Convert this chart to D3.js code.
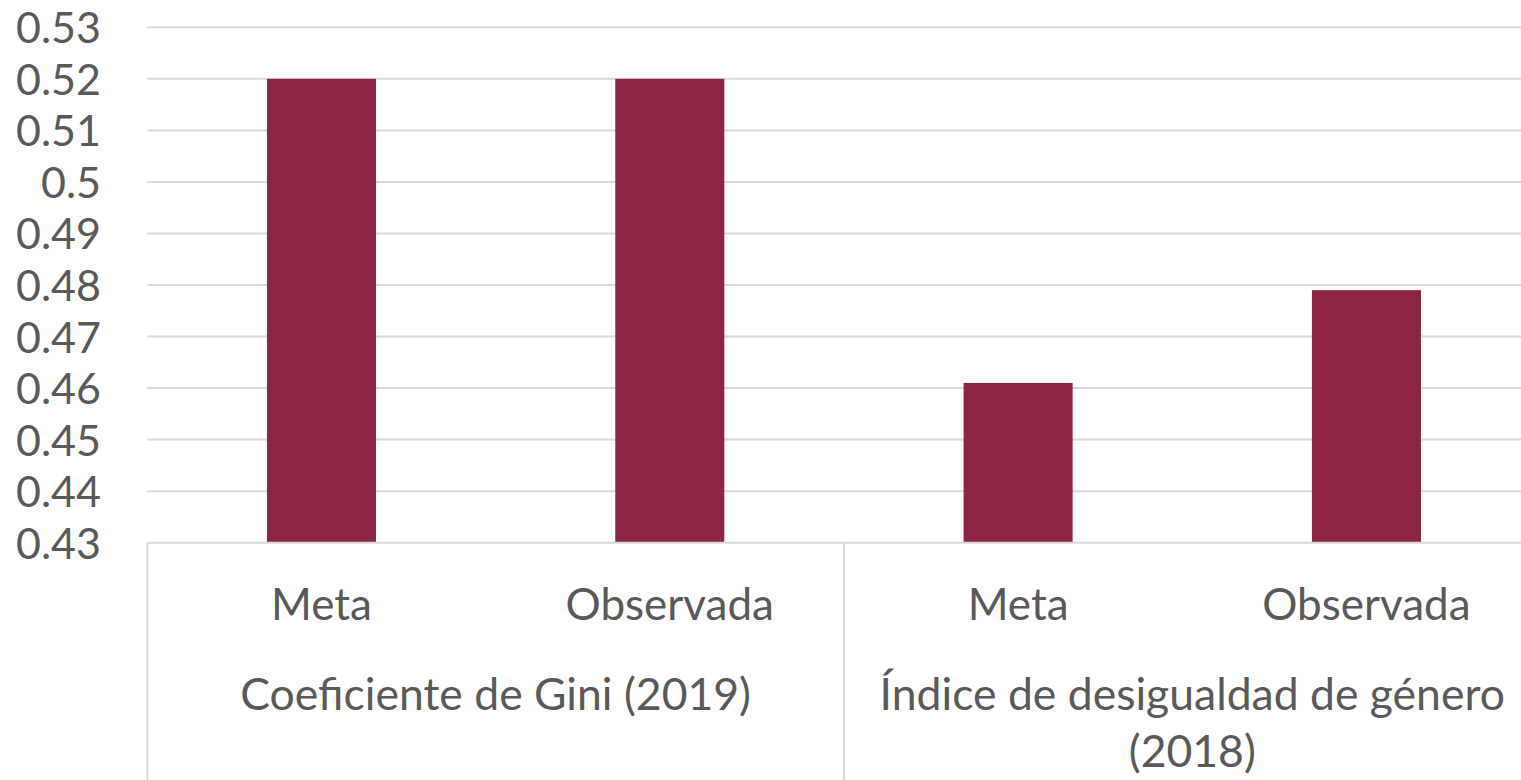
<!DOCTYPE html>
<html>
<head>
<meta charset="utf-8">
<script src="https://cdn.jsdelivr.net/npm/d3@7"></script>
<style>
  html, body { margin: 0; padding: 0; background: #fff; overflow: hidden; }
  svg { display: block; }
  text { font-family: Lato, "Open Sans", sans-serif; fill: #595959; }
</style>
</head>
<body>
<svg id="chart" width="1521" height="780"></svg>
<script>
// ---- data ----
const groups = ["Coeficiente de Gini (2019)", "Índice de desigualdad de género (2018)"];
const groupLines = [["Coeficiente de Gini (2019)"], ["Índice de desigualdad de género", "(2018)"]];
const categories = ["Meta", "Observada"];
const giniValues = [0.52, 0.52];
const idgValues = [0.461, 0.479];
const yTicks = [0.43, 0.44, 0.45, 0.46, 0.47, 0.48, 0.49, 0.50, 0.51, 0.52, 0.53];
const tickLabels = ["0.43", "0.44", "0.45", "0.46", "0.47", "0.48", "0.49", "0.5", "0.51", "0.52", "0.53"];

const rows = [];
[giniValues, idgValues].forEach((vals, gi) => {
  vals.forEach((v, ci) => rows.push({ key: gi + "-" + ci, group: gi, cat: categories[ci], value: v }));
});

// ---- layout ----
const svg = d3.select("#chart");
const plotLeft = 147.3, plotRight = 1540.6, plotTop = 27.3, plotBottom = 542.7;
const color = "#8C2443";
const gridColor = "#d9d9d9";

const x = d3.scaleBand().domain(rows.map(d => d.key)).range([plotLeft, plotRight]).padding(0);
const xg = d3.scaleBand().domain(d3.range(groups.length)).range([plotLeft, plotRight]).padding(0);
const y = d3.scaleLinear().domain([0.43, 0.53]).range([plotBottom, plotTop]);

// gridlines
svg.append("g").selectAll("line").data(yTicks.slice(1)).join("line")
  .attr("x1", plotLeft).attr("x2", plotRight)
  .attr("y1", d => y(d)).attr("y2", d => y(d))
  .attr("stroke", gridColor).attr("stroke-width", 2);

// y tick labels
const yAxis = d3.axisLeft(y).tickValues(yTicks).tickSize(0).tickPadding(0)
  .tickFormat((d, i) => tickLabels[i]);
const ya = svg.append("g").attr("transform", `translate(101,0)`).call(yAxis);
ya.select(".domain").remove();
ya.selectAll("text").attr("font-size", 43).attr("font-family", "Lato, 'Open Sans', sans-serif").attr("fill", "#595959")
  .attr("dy", "0.36em");

// bars
const barFrac = 0.313;
svg.append("g").selectAll("rect").data(rows).join("rect")
  .attr("x", d => x(d.key) + x.bandwidth() * (1 - barFrac) / 2)
  .attr("width", x.bandwidth() * barFrac)
  .attr("y", d => y(d.value))
  .attr("height", d => y(0.43) - y(d.value))
  .attr("fill", color);

// x axis line
svg.append("line").attr("x1", plotLeft).attr("x2", plotRight)
  .attr("y1", plotBottom).attr("y2", plotBottom)
  .attr("stroke", gridColor).attr("stroke-width", 2);

// group dividers
const dividers = d3.range(groups.length + 1).map(i => i < groups.length ? xg(i) : plotRight);
svg.append("g").selectAll("line").data(dividers).join("line")
  .attr("x1", d => d).attr("x2", d => d)
  .attr("y1", plotBottom).attr("y2", 780)
  .attr("stroke", gridColor).attr("stroke-width", 2);

// category labels
svg.append("g").selectAll("text").data(rows).join("text")
  .attr("x", d => x(d.key) + x.bandwidth() / 2)
  .attr("y", 620)
  .attr("text-anchor", "middle")
  .attr("font-size", 44)
  .text(d => d.cat);

// group labels
groupLines.forEach((lines, gi) => {
  const t = svg.append("text")
    .attr("x", xg(gi) + xg.bandwidth() / 2)
    .attr("y", 710)
    .attr("text-anchor", "middle")
    .attr("font-size", 44.5);
  lines.forEach((ln, li) => {
    t.append("tspan").attr("x", xg(gi) + xg.bandwidth() / 2)
      .attr("dy", li === 0 ? 0 : 57).text(ln);
  });
});
</script>
</body>
</html>
